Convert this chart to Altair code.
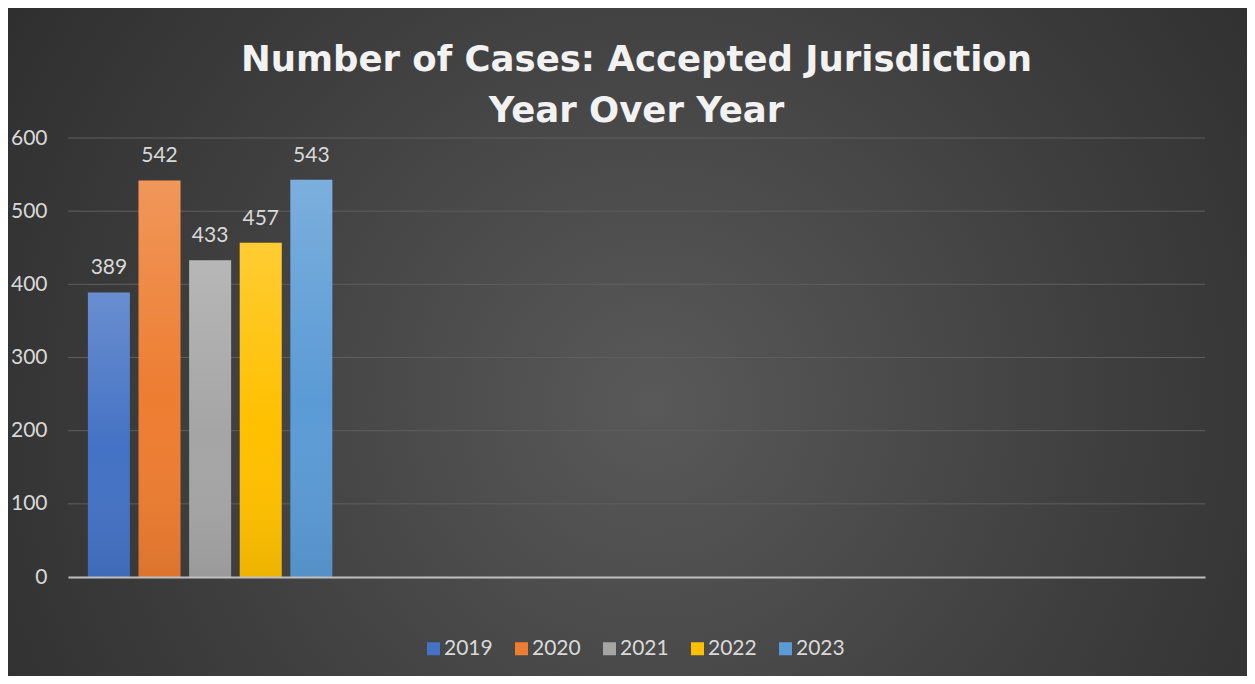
import altair as alt
import pandas as pd

years = ["2019", "2020", "2021", "2022", "2023"]
cases = [389, 542, 433, 457, 543]
colors = ["#4472c4", "#ed7d31", "#a5a5a5", "#ffc000", "#5b9bd5"]
category_slots = ["Accepted Jurisdiction", "slot 2", "slot 3", "slot 4"]
y_ticks = [0, 100, 200, 300, 400, 500, 600]
grid_ticks = [100, 200, 300, 400, 500, 600]
title_lines = ["Number of Cases: Accepted Jurisdiction", "Year Over Year"]

df = pd.DataFrame({"Category": [category_slots[0]] * len(years), "Year": years, "Cases": cases})
grid_df = pd.DataFrame({"Cases": grid_ticks})

FONT = "Lato"
TXT = "#d9d9d9"

yscale = alt.Scale(domain=[0, 600])
xscale = alt.Scale(domain=category_slots, paddingInner=0.14, paddingOuter=0.07)
offscale = alt.Scale(domain=years, paddingInner=0.17, paddingOuter=0)
yaxis = alt.Axis(values=y_ticks, grid=False, ticks=False, domain=False,
                 labelPadding=21, labelColor=TXT, labelFontSize=21,
                 labelFont=FONT, title=None, zindex=1,
                 minExtent=60, maxExtent=60)

bg = alt.Chart(pd.DataFrame({"k": [0]})).mark_rect(
    color=alt.RadialGradient(
        gradient="radial",
        x1=0.52, y1=0.55, r1=0,
        x2=0.52, y2=0.55, r2=0.75,
        stops=[
            alt.GradientStop(color="#595959", offset=0),
            alt.GradientStop(color="#3e3e3e", offset=0.5),
            alt.GradientStop(color="#262626", offset=1),
        ],
    )
).encode(x=alt.value(-60), x2=alt.value(1179), y=alt.value(-130), y2=alt.value(538))

grid = alt.Chart(grid_df).mark_rule(color="#5e5e5e", strokeWidth=1).encode(
    y=alt.Y("Cases:Q", scale=yscale, axis=yaxis)
)

base = alt.Chart(df).encode(
    x=alt.X("Category:N", scale=xscale,
            axis=alt.Axis(labels=False, ticks=False, title=None, grid=False,
                          domainColor="#bfbfbf", domainWidth=2, zindex=1)),
    xOffset=alt.XOffset("Year:N", scale=offscale),
    y=alt.Y("Cases:Q", scale=yscale, axis=yaxis),
)

bars = base.mark_bar().encode(
    color=alt.Color("Year:N", scale=alt.Scale(domain=years, range=colors),
                    legend=alt.Legend(title=None, orient="none", legendX=355, legendY=500,
                                      direction="horizontal", symbolType="square",
                                      symbolSize=169, symbolStrokeWidth=0,
                                      labelFontSize=21, labelColor=TXT, labelFont=FONT,
                                      columnPadding=18, labelOffset=0, padding=0,
                                      zindex=1))
)

shade = base.mark_bar(
    color=alt.LinearGradient(
        gradient="linear", x1=0, y1=0, x2=0, y2=1,
        stops=[
            alt.GradientStop(color="rgba(255,255,255,0.2)", offset=0),
            alt.GradientStop(color="rgba(255,255,255,0)", offset=0.55),
            alt.GradientStop(color="rgba(0,0,0,0.07)", offset=1),
        ],
    )
)

labels = base.mark_text(dy=-18, baseline="alphabetic", fontSize=21, color=TXT, font=FONT).encode(
    text="Cases:Q"
)

chart = alt.layer(bg, grid, bars, shade, labels).properties(
    width=1137,
    height=439,
    autosize="none",
    padding={"left": 60, "top": 130, "right": 42, "bottom": 99},
    background="#2a2a2a",
    title=alt.TitleParams(
        text=title_lines, anchor="middle", frame="group", font="DejaVu Sans",
        fontSize=35.5, fontWeight="bold", color="#f2f2f2", lineHeight=51,
        offset=0, dy=121, zindex=1,
    ),
).configure_view(stroke=None)

chart.save("out.html", embed_options={"renderer": "svg", "actions": False})
